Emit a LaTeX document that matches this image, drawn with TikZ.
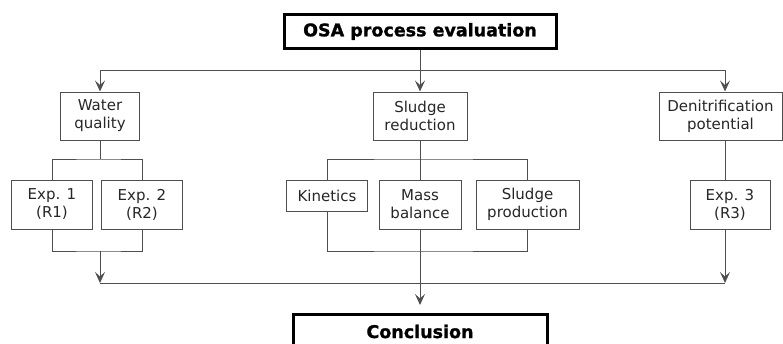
\documentclass[tikz,border=0pt]{standalone}
\usepackage{fontspec}
\setmainfont{DejaVu Sans}
\newfontfamily\heavyfont{DejaVu Sans}[BoldFeatures={FakeBold=1.2}]
\usetikzlibrary{arrows.meta, positioning}
\definecolor{cline}{HTML}{4F4F4F}
\definecolor{ctext}{HTML}{262626}
\tikzset{
  every picture/.style={line width=1pt},
  box/.style={draw=cline, text=ctext, align=center, inner sep=2pt, minimum height=#1, font=\fontsize{15}{18}\selectfont},
  box/.default=48pt,
  mainbox/.style={draw=black, line width=3pt, inner sep=2pt, minimum width=272pt, minimum height=34pt, font=\fontsize{17.5}{20}\selectfont\heavyfont\bfseries},
  link/.style={draw=cline},
  arrow/.style={draw=cline, -{Stealth[length=11pt, width=10pt, inset=4.5pt]}},
}

\begin{document}
\begin{tikzpicture}[x=1pt, y=-1pt]
  \useasboundingbox (0,0) rectangle (783,343);
  % start and end
  \node[mainbox] (eval) at (420,31.5) {OSA process evaluation};
  \node[mainbox, minimum width=254pt] (concl) at (420,331.5) {Conclusion};
  % three aspects
  \node[box, minimum width=79pt] (water) at (100,116) {Water\\quality};
  \node[box, minimum width=94pt] (sludge) at (420,116) {Sludge\\reduction};
  \node[box, minimum width=123pt] (denit) at (720.5,116) {Denitrification\\potential};
  % experiments and analyses
  \node[box=49pt, minimum width=81pt] (exp1) at (52,204.5) {Exp. 1\\(R1)};
  \node[box=49pt, minimum width=81pt] (exp2) at (142,204.5) {Exp. 2\\(R2)};
  \node[box=31pt, minimum width=81pt] (kin) at (327,195.5) {Kinetics};
  \node[box=49pt, minimum width=82pt] (mass) at (420,204.5) {Mass\\balance};
  \node[box=49pt, minimum width=103pt] (prod) at (527.5,204.5) {Sludge\\production};
  \node[box=49pt, minimum width=80pt] (exp3) at (730,204.5) {Exp. 3\\(R3)};
  % junctions
  \coordinate (split) at (420,70);
  \coordinate (dx) at (725,70);
  \coordinate (wt) at (100,159);
  \coordinate (wb) at (100,251);
  \coordinate (st) at (420,159);
  \coordinate (sb) at (420,251);
  \coordinate (join) at (100,283);
  % top branching
  \draw[link] (eval.south) -- (split);
  \draw[arrow] (split) -- (sludge.north);
  \draw[arrow] (split) -| (water.north);
  \draw[link] (split) -- (dx);
  \draw[arrow] (dx) -- (dx |- denit.north);
  % water quality
  \draw[link] (water.south) -- (wt);
  \draw[link] (exp1.north) |- (wt) -| (exp2.north);
  \draw[link] (exp1.south) |- (wb) -| (exp2.south);
  \draw[arrow] (wb) -- (join);
  % sludge reduction
  \draw[link] (sludge.south) -- (mass.north);
  \draw[link] (kin.north) |- (st) -| (prod.north);
  \draw[link] (kin.south) |- (sb) -| (prod.south);
  \draw[arrow, shorten >=8pt] (mass.south) -- (concl.north);
  % denitrification
  \draw[link] (dx |- denit.south) -- (dx |- exp3.north);
  \draw[arrow] (dx |- exp3.south) -- (dx |- join);
  \draw[link] (join) -- (dx |- join);
\end{tikzpicture}
\end{document}
